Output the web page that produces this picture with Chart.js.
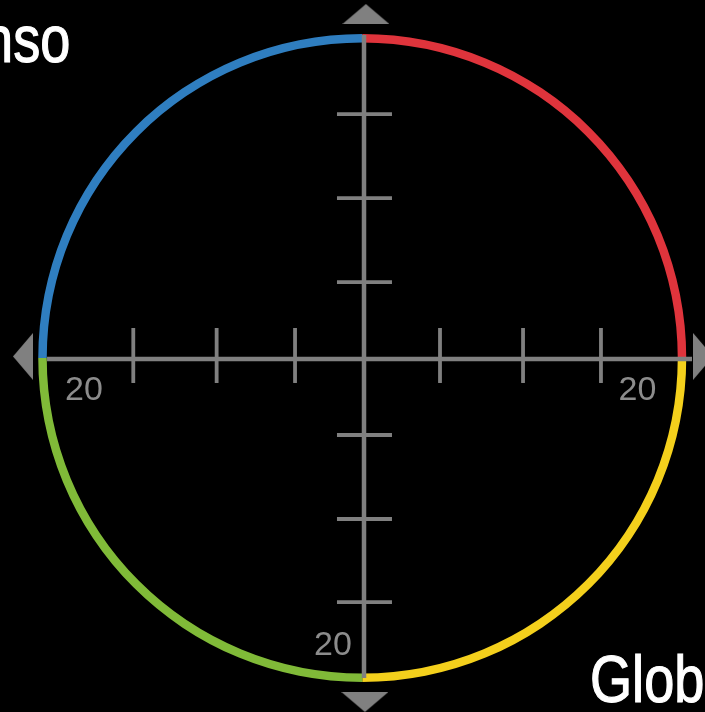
<!DOCTYPE html>
<html>
<head>
<meta charset="utf-8">
<script src="https://cdn.jsdelivr.net/npm/chart.js@4.4.1/dist/chart.umd.min.js"></script>
<style>
html,body{margin:0;padding:0;background:#000;overflow:hidden;}
#wrap{position:relative;width:705px;height:712px;overflow:hidden;background:#000;}
#wrap canvas{position:absolute;left:0;top:0;}
.t{position:absolute;color:#fff;font-family:"Liberation Sans",Arial,sans-serif;font-size:66px;line-height:66px;white-space:nowrap;-webkit-text-stroke:1.2px #fff;}
</style>
</head>
<body>
<div id="wrap">
  <canvas id="ring" width="705" height="712"></canvas>
  <canvas id="axes" width="705" height="712"></canvas>
  <div class="t" id="t1" style="right:635px;top:6px;transform-origin:100% 50%;">nso</div>
  <div class="t" id="t2" style="left:590px;top:646px;transform-origin:0 50%;">Glob</div>
</div>
<script>
// ---- data ----
const quadrants = ['Top right', 'Bottom right', 'Bottom left', 'Top left'];
const quadrantValues = [1, 1, 1, 1];
const quadrantColors = ['#df343c', '#f4d01c', '#80ba38', '#2f7ec0'];

const hAxisX = [-19.81, 20.5];
const hAxisY = [0, 0];
const vAxisX = [0, 0];
const vAxisY = [20.25, -19.94];

const hTickX = [-14.42, -9.21, -4.31, 4.75, 9.94, 14.81];
const hTickY = [0.22, 0.22, 0.22, 0.22, 0.22, 0.22];
const vTickX = [0.03, 0.03, 0.03, 0.03, 0.03, 0.03];
const vTickY = [15.31, 10.06, 4.81, -4.75, -10.0, -15.19];

const arrowX = [0.12, 21.19, 0.06, -21.31];
const arrowY = [21.56, 0.16, -21.44, 0.16];
const arrowRotation = [0, 90, 180, 270];

const labelText = ['20', '20', '20'];
const labelX = [-17.5, 17.09, -1.94];
const labelY = [-2.56, -2.56, -18.5];

// ---- styles ----
const GRAY = '#808080';
const toPts = (xs, ys) => xs.map((v, i) => ({x: v, y: ys[i]}));

// condensed look for the cropped title fragments
[['t1', 87], ['t2', 114]].forEach(([id, w]) => {
  const el = document.getElementById(id);
  const s = w / el.offsetWidth;
  el.style.transform = 'scaleX(' + s + ')';
});

// arrow head image (flattened triangle pointing up)
const arrowImg = document.createElement('canvas');
arrowImg.width = 47; arrowImg.height = 20;
(function(){
  const c = arrowImg.getContext('2d');
  c.fillStyle = GRAY;
  c.beginPath();
  c.moveTo(23.5, 0); c.lineTo(47, 20); c.lineTo(0, 20); c.closePath();
  c.fill();
})();

// ---- ring (doughnut) ----
const outerR = 324, ringW = 8.5;
new Chart(document.getElementById('ring'), {
  type: 'doughnut',
  data: {
    labels: quadrants,
    datasets: [{
      data: quadrantValues,
      backgroundColor: quadrantColors,
      borderWidth: 0,
      hoverOffset: 0,
      offset: 0
    }]
  },
  options: {
    responsive: false,
    animation: false,
    radius: outerR,
    cutout: ((1 - ringW / outerR) * 100) + '%',
    layout: {padding: {left: 19.5, right: 0, top: 4, bottom: 0}},
    plugins: {legend: {display: false}, tooltip: {enabled: false}}
  }
});

// ---- axes (scatter) ----
const labelPlugin = {
  id: 'axisLabels',
  afterDatasetsDraw(chart) {
    const {ctx, scales: {x, y}} = chart;
    ctx.save();
    ctx.font = '34px "Liberation Sans", Arial, sans-serif';
    ctx.fillStyle = '#8c8c8c';
    ctx.textAlign = 'center';
    ctx.textBaseline = 'alphabetic';
    labelText.forEach((t, i) => {
      ctx.fillText(t, x.getPixelForValue(labelX[i]), y.getPixelForValue(labelY[i]));
    });
    ctx.restore();
  }
};

new Chart(document.getElementById('axes'), {
  type: 'scatter',
  data: {
    datasets: [
      {data: toPts(hAxisX, hAxisY), showLine: true, borderColor: GRAY, borderWidth: 4.5, pointRadius: 0, clip: false},
      {data: toPts(vAxisX, vAxisY), showLine: true, borderColor: GRAY, borderWidth: 4.5, pointRadius: 0, clip: false},
      {data: toPts(hTickX, hTickY), pointStyle: 'line', pointRotation: 90, pointRadius: 27.5,
       pointBorderWidth: 3.8, pointBorderColor: GRAY, pointBackgroundColor: GRAY, clip: false},
      {data: toPts(vTickX, vTickY), pointStyle: 'line', pointRotation: 0, pointRadius: 27.5,
       pointBorderWidth: 3.8, pointBorderColor: GRAY, pointBackgroundColor: GRAY, clip: false},
      {data: toPts(arrowX, arrowY), pointStyle: arrowImg, pointRotation: arrowRotation, pointRadius: 10, clip: false}
    ]
  },
  options: {
    responsive: false,
    animation: false,
    layout: {padding: 0, autoPadding: false},
    scales: {
      x: {type: 'linear', display: false, min: -22.75, max: 21.3125},
      y: {type: 'linear', display: false, min: -22.0625, max: 22.4375}
    },
    plugins: {legend: {display: false}, tooltip: {enabled: false}}
  },
  plugins: [labelPlugin]
});
</script>
</body>
</html>
